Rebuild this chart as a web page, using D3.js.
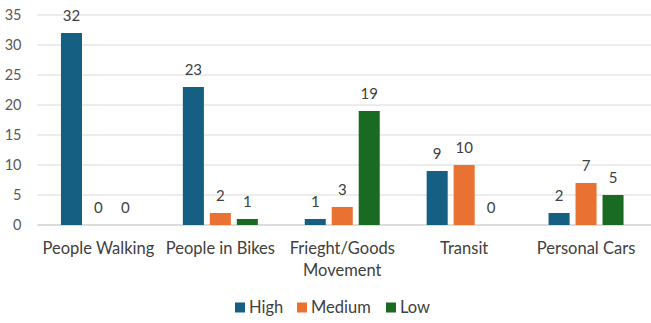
<!DOCTYPE html>
<html>
<head>
<meta charset="utf-8">
<script src="https://cdn.jsdelivr.net/npm/d3@7"></script>
<style>
  body { margin: 0; background: #fff; }
  svg { display: block; font-family: Lato, "Liberation Sans", sans-serif; }
</style>
</head>
<body>
<script>
// ratings per mode of travel
var categories = ["People Walking", "People in Bikes", "Frieght/Goods Movement", "Transit", "Personal Cars"]
var series = ["High", "Medium", "Low"]
var high = [32, 23, 1, 9, 2]
var medium = [0, 2, 3, 10, 7]
var low = [0, 1, 19, 0, 5]
var yTicks = [0, 5, 10, 15, 20, 25, 30, 35]

var colors = { High: "#156082", Medium: "#e97132", Low: "#196b24" }
var textGrey = "#404040"

var width = 651, height = 323
var margin = { top: 15, right: 4, bottom: 98, left: 37.5 }
var innerW = width - margin.left - margin.right
var innerH = height - margin.top - margin.bottom

var rows = categories.map(function(c, i) {
  return { cat: c, values: [high[i], medium[i], low[i]] }
})

var svg = d3.select("body").append("svg")
  .attr("width", width)
  .attr("height", height)

var g = svg.append("g").attr("transform", "translate(" + margin.left + "," + margin.top + ")")

var x0 = d3.scaleBand().domain(categories).range([0, innerW]).paddingInner(0).paddingOuter(0)
var groupW = 75
var x1 = d3.scaleBand().domain(series).range([0, groupW]).paddingInner(0.22)
var y = d3.scaleLinear().domain([0, 35]).range([innerH, 0])

// gridlines
g.append("g").selectAll("line")
  .data(yTicks.slice(1))
  .enter().append("line")
  .attr("x1", 0).attr("x2", width - margin.left)
  .attr("y1", function(d) { return y(d) }).attr("y2", function(d) { return y(d) })
  .style("stroke", "#d9d9d9").style("stroke-width", 1)

g.append("line")
  .attr("x1", 0).attr("x2", width - margin.left)
  .attr("y1", y(0)).attr("y2", y(0))
  .style("stroke", "#d0d0d0").style("stroke-width", 1.3)

// y tick labels
g.append("g").selectAll("text")
  .data(yTicks)
  .enter().append("text")
  .attr("x", -16)
  .attr("y", function(d) { return y(d) })
  .attr("dy", "0.35em")
  .attr("text-anchor", "end")
  .style("font-size", "14.5px")
  .style("fill", "#595959")
  .text(function(d) { return d })

// bars
var groups = g.append("g").selectAll("g")
  .data(rows)
  .enter().append("g")
  .attr("transform", function(d) { return "translate(" + (x0(d.cat) + (x0.bandwidth() - groupW) / 2) + ",0)" })

groups.selectAll("rect")
  .data(function(d) { return d.values.map(function(v, i) { return { s: series[i], v: v } }) })
  .enter().append("rect")
  .attr("x", function(d) { return x1(d.s) })
  .attr("width", x1.bandwidth())
  .attr("y", function(d) { return y(d.v) })
  .attr("height", function(d) { return y(0) - y(d.v) })
  .style("fill", function(d) { return colors[d.s] })

groups.selectAll("text")
  .data(function(d) { return d.values.map(function(v, i) { return { s: series[i], v: v } }) })
  .enter().append("text")
  .attr("x", function(d) { return x1(d.s) + x1.bandwidth() / 2 })
  .attr("y", function(d) { return y(d.v) - 12.5 })
  .attr("text-anchor", "middle")
  .style("font-size", "15px")
  .style("fill", textGrey)
  .text(function(d) { return d.v })

// category labels, wrapped where they are too wide
var catLines = {
  "Frieght/Goods Movement": ["Frieght/Goods", "Movement"]
}
var catText = g.append("g").selectAll("text")
  .data(categories)
  .enter().append("text")
  .attr("x", function(d) { return x0(d) + x0.bandwidth() / 2 })
  .attr("y", innerH + 28.5)
  .attr("text-anchor", "middle")
  .style("font-size", "16.5px")
  .style("fill", textGrey)

catText.each(function(d) {
  var lines = catLines[d] || [d]
  var t = d3.select(this)
  lines.forEach(function(l, i) {
    t.append("tspan")
      .attr("x", x0(d) + x0.bandwidth() / 2)
      .attr("dy", i === 0 ? 0 : 22)
      .text(l)
  })
})

// legend
var legendX = [235, 297, 386]
var legend = svg.append("g").selectAll("g")
  .data(series)
  .enter().append("g")
  .attr("transform", function(d, i) { return "translate(" + legendX[i] + ",302.5)" })

legend.append("rect")
  .attr("width", 10).attr("height", 10)
  .style("fill", function(d) { return colors[d] })

legend.append("text")
  .attr("x", 14)
  .attr("y", 10)
  .style("font-size", "16.5px")
  .style("fill", textGrey)
  .text(function(d) { return d })
</script>
</body>
</html>
